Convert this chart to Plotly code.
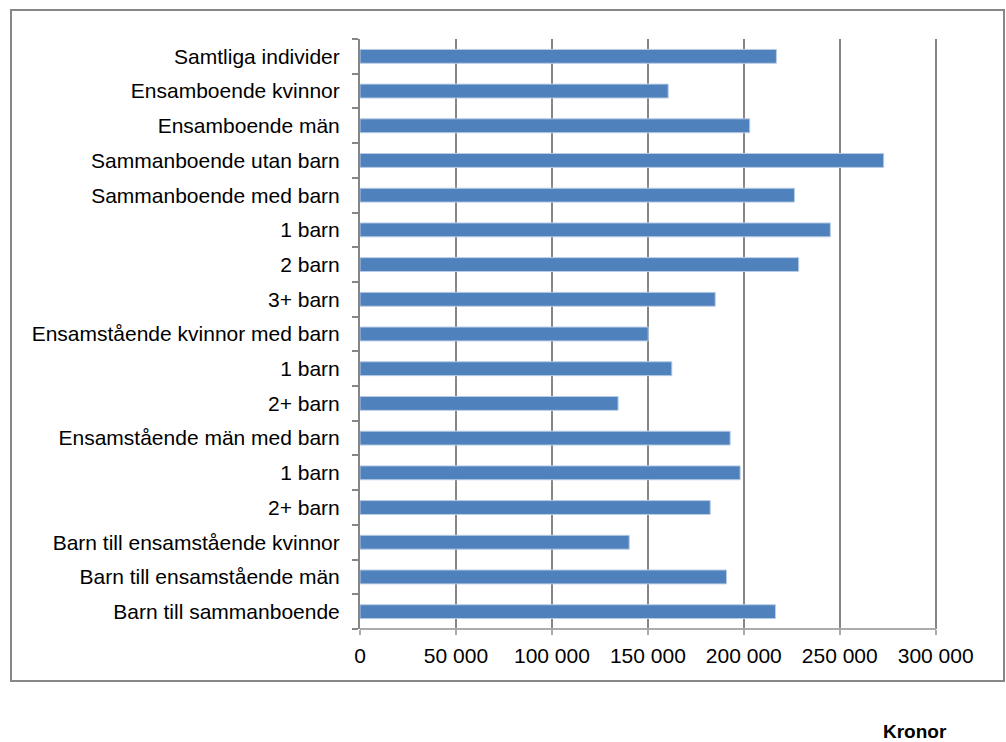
import plotly.graph_objects as go

categories = [
    "Samtliga individer",
    "Ensamboende kvinnor",
    "Ensamboende män",
    "Sammanboende utan barn",
    "Sammanboende med barn",
    "1 barn",
    "2 barn",
    "3+ barn",
    "Ensamstående kvinnor med barn",
    "1 barn",
    "2+ barn",
    "Ensamstående män med barn",
    "1 barn",
    "2+ barn",
    "Barn till ensamstående kvinnor",
    "Barn till ensamstående män",
    "Barn till sammanboende",
]
values = [217000, 160600, 203100, 272900, 226400, 245100, 228600, 185100,
          150200, 162500, 134500, 192900, 198100, 182500, 140300, 191000, 216500]

x_tickvals = [0, 50000, 100000, 150000, 200000, 250000, 300000]
x_ticktext = ["0", "50 000", "100 000", "150 000", "200 000", "250 000", "300 000"]
x_title = "Kronor"

positions = list(range(len(categories)))
boundaries = [p - 0.5 for p in positions] + [positions[-1] + 0.5]

W, H = 1006, 742
X_MAX = 300000 * 1.004   # tiny headroom so the 300 000 gridline is drawn
L, T, B = 360, 39, 629
R = L + round(576 * 1.004)
pw, ph = R - L, B - T

def px_x(x):
    return (x - L) / pw

def px_y(y):
    return (B - y) / ph

FONT = "Liberation Sans, Arial, sans-serif"
GRID = "#868686"
FS = 21

fig = go.Figure(
    go.Bar(
        x=values,
        y=positions,
        orientation="h",
        marker=dict(color="#4F81BD", line=dict(color="#B9CDE5", width=1)),
        hoverinfo="x",
    )
)

fig.update_layout(
    width=W,
    height=H,
    margin=dict(l=L, r=W - R, t=T, b=H - B, autoexpand=False),
    paper_bgcolor="white",
    plot_bgcolor="white",
    bargap=0.6,
    showlegend=False,
    font=dict(family=FONT, size=FS, color="#000000"),
    xaxis=dict(
        range=[0, X_MAX],
        tickvals=x_tickvals,
        ticktext=x_ticktext,
        showgrid=True,
        gridcolor=GRID,
        gridwidth=2,
        zeroline=False,
        showline=False,
        ticks="outside",
        ticklen=5,
        tickwidth=2,
        tickcolor="#ABABAB",
        ticklabelstandoff=3,
        tickfont=dict(family=FONT, size=FS, color="#000000"),
        fixedrange=True,
    ),
    yaxis=dict(
        range=[positions[-1] + 0.5, positions[0] - 0.5],
        tickvals=positions,
        ticktext=categories,
        showgrid=False,
        zeroline=False,
        showline=True,
        linecolor=GRID,
        linewidth=2,
        ticks="outside",
        ticklen=6,
        tickcolor="rgba(0,0,0,0)",
        ticklabelstandoff=8,
        minor=dict(
            tickvals=boundaries,
            ticks="outside",
            ticklen=6,
            tickwidth=2,
            tickcolor=GRID,
            showgrid=False,
        ),
        tickfont=dict(family=FONT, size=FS, color="#000000"),
        fixedrange=True,
    ),
    shapes=[
        dict(
            type="rect",
            xref="paper",
            yref="paper",
            x0=px_x(11),
            x1=px_x(1004),
            y0=px_y(681),
            y1=px_y(10),
            line=dict(color="#878787", width=2),
            fillcolor="rgba(0,0,0,0)",
            layer="below",
        ),
        # x-axis baseline across the plot width
        dict(
            type="line",
            xref="paper",
            yref="paper",
            x0=0,
            x1=px_x(936) ,
            y0=0,
            y1=0,
            line=dict(color="#ABABAB", width=2),
        ),
    ],
    annotations=[
        dict(
            text="<b>" + x_title + "</b>",
            xref="paper",
            yref="paper",
            x=px_x(915),
            y=px_y(731),
            xanchor="center",
            yanchor="middle",
            showarrow=False,
            font=dict(family=FONT, size=19, color="#000000"),
        )
    ],
)

fig.write_html(
    "out.html",
    config={"displayModeBar": False},
    post_script="document.body.style.margin='0';document.body.style.overflow='hidden';",
)
